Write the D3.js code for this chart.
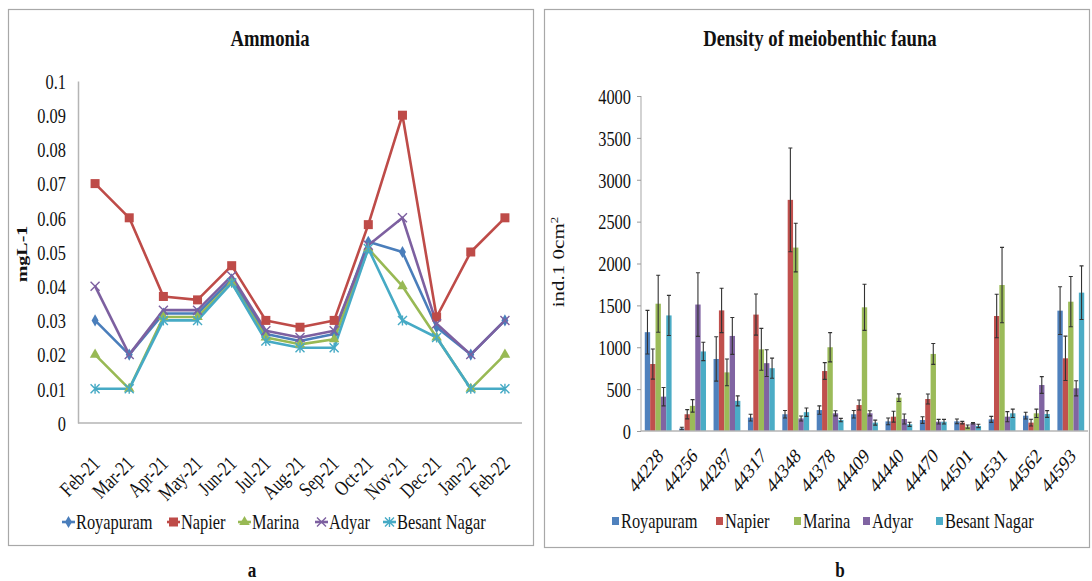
<!DOCTYPE html>
<html>
<head>
<meta charset="utf-8">
<script src="https://cdn.jsdelivr.net/npm/d3@7"></script>
<style>
  html, body { margin: 0; padding: 0; background: #fff; }
  svg { display: block; }
</style>
</head>
<body>
<svg id="fig" width="1092" height="581"></svg>
<script>
// ---- Panel a: ammonia (mg/L) by month and station ----
const months = ["Feb-21","Mar-21","Apr-21","May-21","Jun-21","Jul-21","Aug-21","Sep-21","Oct-21","Nov-21","Dec-21","Jan-22","Feb-22"];
const stations = ["Royapuram","Napier","Marina","Adyar","Besant Nagar"];
const ammoniaRoyapuram   = [0.030,0.020,0.032,0.032,0.042,0.026,0.024,0.026,0.053,0.050,0.028,0.020,0.030];
const ammoniaNapier      = [0.070,0.060,0.037,0.036,0.046,0.030,0.028,0.030,0.058,0.090,0.031,0.050,0.060];
const ammoniaMarina      = [0.020,0.010,0.031,0.031,0.041,0.025,0.023,0.0245,0.051,0.040,0.025,0.010,0.020];
const ammoniaAdyar       = [0.040,0.020,0.033,0.033,0.043,0.027,0.025,0.027,0.052,0.060,0.029,0.020,0.030];
const ammoniaBesantNagar = [0.010,0.010,0.030,0.030,0.041,0.024,0.022,0.022,0.051,0.030,0.025,0.010,0.010];
const ammoniaTicks = [0,0.01,0.02,0.03,0.04,0.05,0.06,0.07,0.08,0.09,0.1];

// ---- Panel b: meiobenthic density (ind./10 cm²) with error bars ----
const sampleDates = ["44228","44256","44287","44317","44348","44378","44409","44440","44470","44501","44531","44562","44593"];
const densityRoyapuram   = [1180,30,860,160,200,250,200,115,131,115,139,183,1437];
const densityNapier      = [800,200,1440,1390,2760,716,310,171,382,100,1373,100,868];
const densityMarina      = [1520,300,700,975,2190,1000,1477,398,920,52,1743,211,1544];
const densityAdyar       = [410,1510,1135,810,150,211,211,143,111,92,171,549,510];
const densityBesantNagar = [1380,950,360,750,225,131,100,80,111,60,211,203,1652];
const errRoyapuram   = [260,15,265,40,45,50,45,40,40,28,36,40,285];
const errNapier      = [180,55,265,245,620,100,60,65,60,15,260,40,265];
const errMarina      = [340,75,160,250,290,175,275,45,125,20,450,50,300];
const errAdyar       = [110,380,220,160,30,30,30,60,28,8,60,100,90];
const errBesantNagar = [240,110,60,120,50,20,30,25,28,20,50,40,320];
const densityTicks = [0,500,1000,1500,2000,2500,3000,3500,4000];

const lineColors = ["#4A7EBB","#BE4B48","#98B954","#7D60A0","#46AAC5"];
const barColors  = ["#4F81BD","#C0504D","#9BBB59","#8064A2","#4BACC6"];
const SERIF = "'Liberation Serif', Tinos, 'Times New Roman', 'DejaVu Serif', serif";

const svg = d3.select("#fig").attr("font-family", SERIF);
svg.append("rect").attr("width",1092).attr("height",581).attr("fill","#fff");

// narrow serif text look
const SX = 0.78;
function place(sel, x, y, rot) {
  sel.attr("font-family", SERIF).attr("fill", "#111")
    .attr("transform", `translate(${x},${y}) scale(${SX},1)` + (rot ? ` rotate(${rot})` : ""));
  return sel;
}
// rotated labels: rotation first, then narrowing along the text
function placeRot(sel, x, y, rot) {
  sel.attr("font-family", SERIF).attr("fill", "#111")
    .attr("transform", `translate(${x},${y}) rotate(${rot}) scale(${SX},1)`);
  return sel;
}

// panel frames
svg.append("rect").attr("x",8.5).attr("y",9.5).attr("width",525).attr("height",536)
  .attr("fill","none").attr("stroke","#a8a8a8").attr("stroke-width",1.2);
svg.append("rect").attr("x",544.5).attr("y",9.5).attr("width",545).attr("height",538)
  .attr("fill","none").attr("stroke","#a8a8a8").attr("stroke-width",1.2);

// ================= Panel a =================
const gA = svg.append("g");
const xA = d3.scalePoint().domain(months).range([78,522]).padding(0.5);
const yA = d3.scaleLinear().domain([0,0.1]).range([423,81]);

const yAxisA = gA.append("g").attr("transform","translate(78,0)")
  .call(d3.axisLeft(yA).tickValues(ammoniaTicks).tickSize(0)
    .tickFormat(v => v === 0 ? "0" : String(+v.toFixed(2))));
yAxisA.attr("font-family", SERIF);
yAxisA.select(".domain").attr("stroke","#b5b5b5").attr("stroke-width",1.5);
yAxisA.selectAll("text").attr("x",null).attr("dy","0.35em")
  .attr("font-size",21).attr("text-anchor","end").attr("font-family", SERIF)
  .attr("fill","#111")
  .attr("transform",`translate(-12,0) scale(${SX},1)`);

const xAxisA = gA.append("g").attr("transform","translate(0,423)")
  .call(d3.axisBottom(xA).tickSize(0).tickFormat(""));
xAxisA.select(".domain").attr("stroke","#b5b5b5").attr("stroke-width",1.5)
  .attr("d","M78,0H522");

months.forEach(m => {
  placeRot(gA.append("text").text(m).attr("font-size",21).attr("text-anchor","end"),
    xA(m) + 6, 465, -45);
});

place(gA.append("text").text("Ammonia").attr("font-size",24).attr("font-weight","bold")
  .attr("text-anchor","middle"), 270, 46);
place(gA.append("text").text("mgL-1").attr("font-size",20).attr("font-weight","bold")
  .attr("text-anchor","middle"), 27, 254, -90);

const ammoniaSeries = [ammoniaRoyapuram, ammoniaNapier, ammoniaMarina, ammoniaAdyar, ammoniaBesantNagar];
const lineA = d3.line().x((d,i) => xA(months[i])).y(d => yA(d));

function marker(g, k, x, y, color) {
  if (k === 0) {
    g.append("path").attr("d", d3.symbol(d3.symbolDiamond, 42)())
      .attr("transform",`translate(${x},${y})`).attr("fill",color);
  } else if (k === 1) {
    g.append("rect").attr("x",x-4.5).attr("y",y-4.5).attr("width",9).attr("height",9).attr("fill",color);
  } else if (k === 2) {
    g.append("path").attr("d", d3.symbol(d3.symbolTriangle, 48)())
      .attr("transform",`translate(${x},${y})`).attr("fill",color);
  } else if (k === 3) {
    g.append("path").attr("d",`M${x-4.5},${y-4.5}L${x+4.5},${y+4.5}M${x-4.5},${y+4.5}L${x+4.5},${y-4.5}`)
      .attr("stroke",color).attr("stroke-width",1.4).attr("fill","none");
  } else {
    g.append("path").attr("d",`M${x-4.5},${y-4.5}L${x+4.5},${y+4.5}M${x-4.5},${y+4.5}L${x+4.5},${y-4.5}M${x},${y-5}L${x},${y+5}`)
      .attr("stroke",color).attr("stroke-width",1.4).attr("fill","none");
  }
}

ammoniaSeries.forEach((vals, k) => {
  gA.append("path").datum(vals).attr("d", lineA).attr("fill","none")
    .attr("stroke", lineColors[k]).attr("stroke-width",2.6).attr("stroke-linejoin","round");
});
ammoniaSeries.forEach((vals, k) => {
  vals.forEach((v,i) => marker(gA, k, xA(months[i]), yA(v), lineColors[k]));
});

// legend a
const legAx = [62, 167, 238, 315, 383];
stations.forEach((s,k) => {
  const x0 = legAx[k], y0 = 522;
  gA.append("line").attr("x1",x0).attr("x2",x0+13).attr("y1",y0).attr("y2",y0)
    .attr("stroke",lineColors[k]).attr("stroke-width",2.6);
  marker(gA, k, x0+6.5, y0, lineColors[k]);
  place(gA.append("text").text(s).attr("font-size",21).attr("dy","0.35em"), x0+14, y0);
});

place(gA.append("text").text("a").attr("font-size",22).attr("font-weight","bold")
  .attr("text-anchor","middle"), 252, 577);

// ================= Panel b =================
const gB = svg.append("g");
const xB = d3.scaleBand().domain(sampleDates).range([641,1088]).paddingInner(0.22).paddingOuter(0.11);
const xSub = d3.scaleBand().domain(stations).range([0, xB.bandwidth()]);
const yB = d3.scaleLinear().domain([0,4000]).range([431,96]);

const yAxisB = gB.append("g").attr("transform","translate(641,0)")
  .call(d3.axisLeft(yB).tickValues(densityTicks).tickSize(4).tickFormat(d3.format("d")));
yAxisB.attr("font-family", SERIF);
yAxisB.select(".domain").attr("stroke","#b5b5b5").attr("stroke-width",1.2).attr("d","M0,96V431");
yAxisB.selectAll(".tick line").attr("stroke","#999");
yAxisB.selectAll("text").attr("x",null).attr("dy","0.35em")
  .attr("font-size",21).attr("text-anchor","end").attr("font-family", SERIF)
  .attr("fill","#111")
  .attr("transform",`translate(-10,0) scale(${SX},1)`);

const densitySeries = [densityRoyapuram, densityNapier, densityMarina, densityAdyar, densityBesantNagar];
const errSeries = [errRoyapuram, errNapier, errMarina, errAdyar, errBesantNagar];

densitySeries.forEach((vals,k) => {
  vals.forEach((v,i) => {
    const x = xB(sampleDates[i]) + xSub(stations[k]);
    gB.append("rect").attr("x",x).attr("y",yB(v)).attr("width",xSub.bandwidth()).attr("height",yB(0)-yB(v))
      .attr("fill",barColors[k]);
  });
});
// error bars
densitySeries.forEach((vals,k) => {
  vals.forEach((v,i) => {
    const cx = xB(sampleDates[i]) + xSub(stations[k]) + xSub.bandwidth()/2;
    const e = errSeries[k][i];
    const lo = yB(Math.max(0, v - e)), hi = yB(v + e);
    gB.append("path")
      .attr("d",`M${cx},${lo}V${hi}M${cx-2},${hi}H${cx+2}M${cx-2},${lo}H${cx+2}`)
      .attr("stroke","#333").attr("stroke-width",1.1).attr("fill","none");
  });
});

const xAxisB = gB.append("g").attr("transform","translate(0,431)")
  .call(d3.axisBottom(xB).tickSize(0).tickFormat(""));
xAxisB.select(".domain").attr("stroke","#b5b5b5").attr("stroke-width",1.5).attr("d","M641,0H1088");

sampleDates.forEach(d => {
  place(gB.append("text").text(d).attr("font-size",21).attr("text-anchor","end"),
    xB(d) + xB.bandwidth()/2 + 6, 457, -45);
});

place(gB.append("text").text("Density of meiobenthic fauna").attr("font-size",24).attr("font-weight","bold")
  .attr("text-anchor","middle"), 820, 46);
const yLab = gB.append("text").attr("font-size",21).attr("text-anchor","middle");
yLab.append("tspan").text("ind.1 0cm");
yLab.append("tspan").text("2").attr("font-size",13).attr("dy","-0.6em");
place(yLab, 564, 262, -90);

// legend b
const legBx = [612, 716, 794, 863, 936];
stations.forEach((s,k) => {
  const x0 = legBx[k], y0 = 521;
  gB.append("rect").attr("x",x0).attr("y",y0-4).attr("width",7).attr("height",8).attr("fill",barColors[k]);
  place(gB.append("text").text(s).attr("font-size",21).attr("dy","0.35em"), x0+9, y0);
});

place(gB.append("text").text("b").attr("font-size",22).attr("font-weight","bold")
  .attr("text-anchor","middle"), 840, 577);
</script>
</body>
</html>
